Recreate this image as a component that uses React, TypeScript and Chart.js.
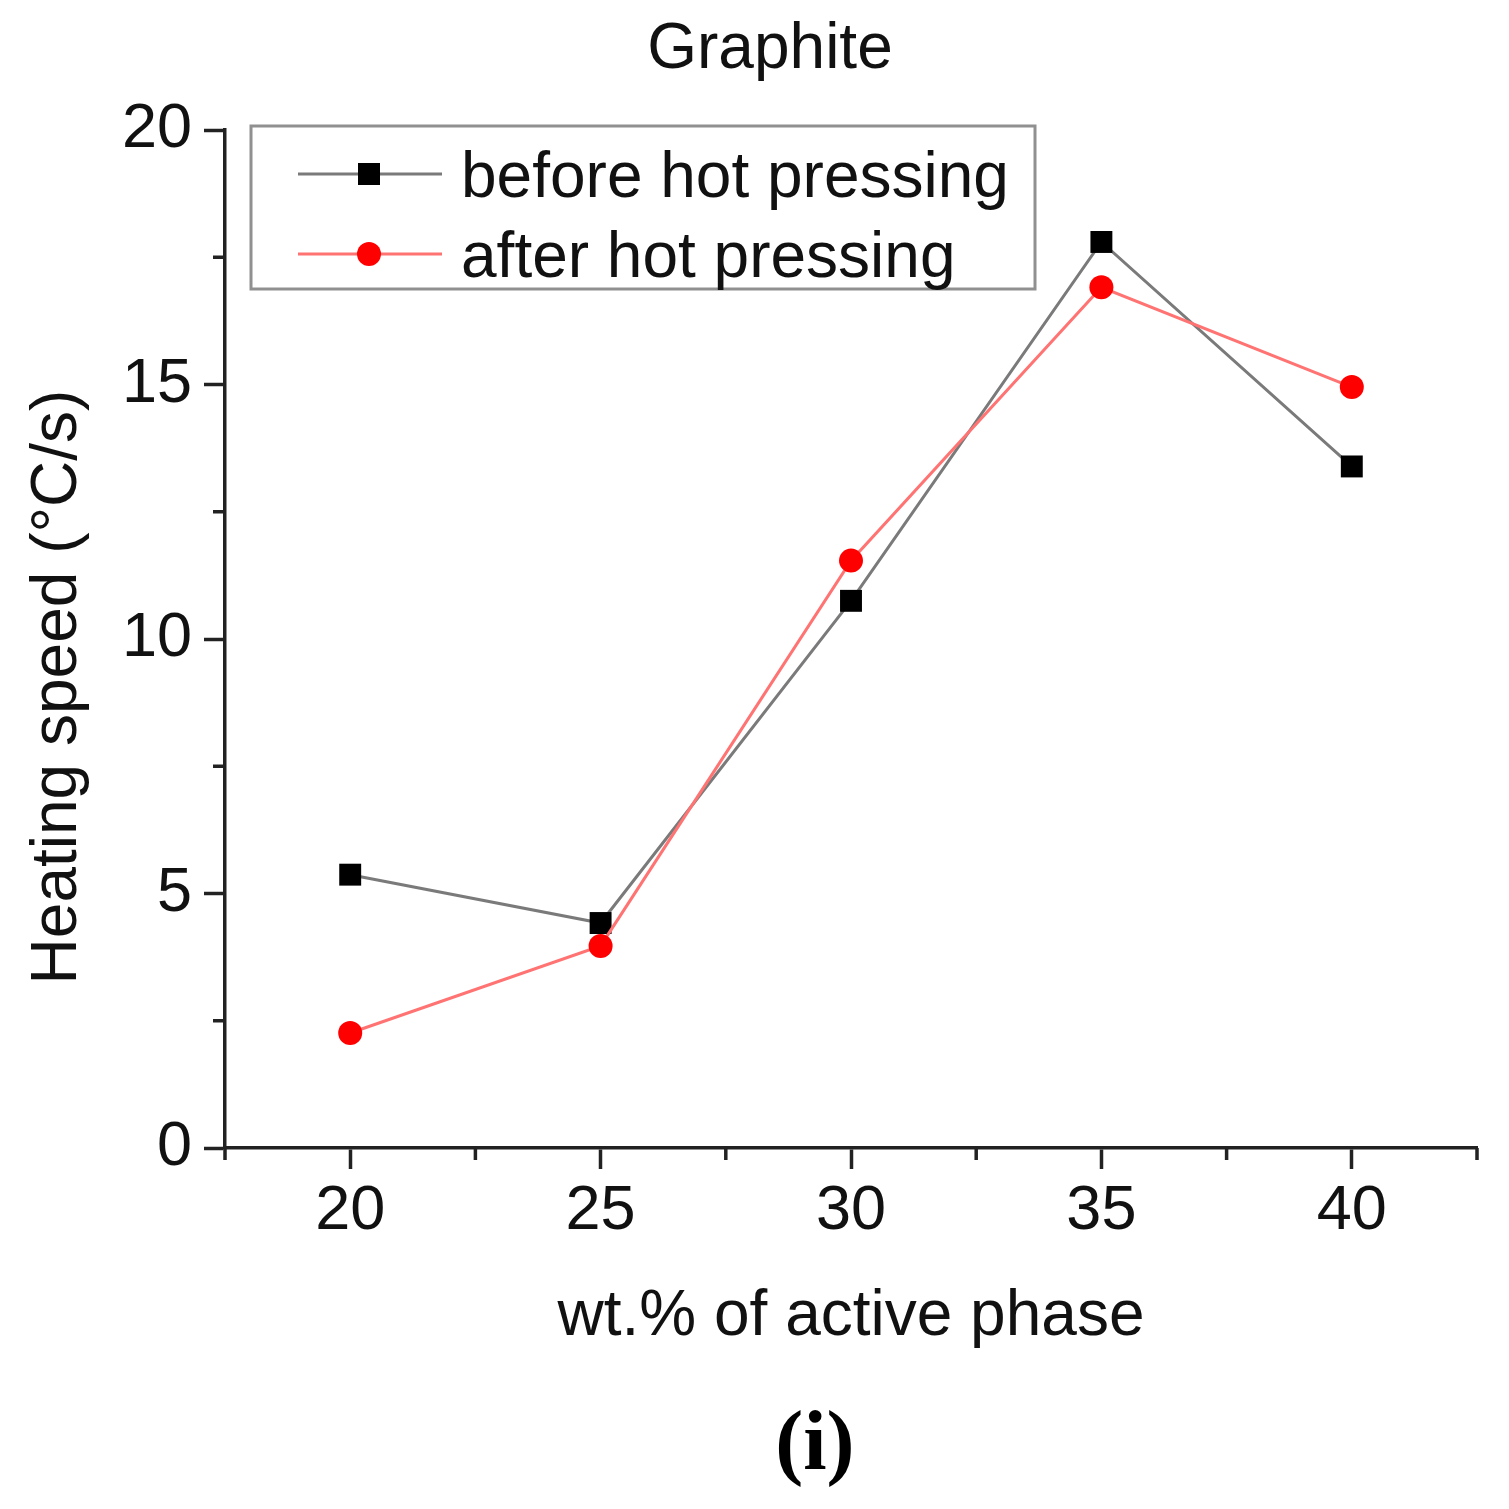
import { useEffect, useRef } from "react";
import { Chart, ChartConfiguration, Plugin, registerables } from "chart.js";

Chart.register(...registerables);

const FONT = "'Liberation Sans', Arial, sans-serif";
const AXIS_COLOR = "#222222";

const weightPercent = [20, 25, 30, 35, 40];
const beforeHotPressing = [5.37, 4.42, 10.75, 17.8, 13.39];
const afterHotPressing = [2.26, 3.97, 11.54, 16.91, 14.95];

const xMajorTicks = [20, 25, 30, 35, 40];
const xMinorTicks = [17.5, 22.5, 27.5, 32.5, 37.5, 42.5];
const yMinorTicks = [2.5, 7.5, 12.5, 17.5];

const yTitle = "Heating speed (\u00B0C/s)";
const caption = "(i)";

// Chart.js has no minor ticks, draw the short half-step ones by hand
const minorTicks: Plugin = {
  id: "minorTicks",
  afterDraw(chart) {
    const { ctx, chartArea, scales } = chart;
    ctx.save();
    ctx.strokeStyle = AXIS_COLOR;
    ctx.lineWidth = 3.5;
    ctx.beginPath();
    xMinorTicks.forEach((v) => {
      const px = scales.x.getPixelForValue(v);
      ctx.moveTo(px, chartArea.bottom);
      ctx.lineTo(px, chartArea.bottom + 12);
    });
    yMinorTicks.forEach((v) => {
      const py = scales.y.getPixelForValue(v);
      ctx.moveTo(chartArea.left - 12, py);
      ctx.lineTo(chartArea.left, py);
    });
    ctx.stroke();
    ctx.restore();
  },
};

// Boxed legend sitting inside the plot, top left
const insetLegend: Plugin = {
  id: "insetLegend",
  afterDraw(chart) {
    const { ctx, chartArea } = chart;
    const left = chartArea.left + 26;
    const top = chartArea.top - 4;
    ctx.save();
    ctx.strokeStyle = "#909090";
    ctx.lineWidth = 3;
    ctx.strokeRect(left, top, 784, 163);
    chart.data.datasets.forEach((ds: any, i) => {
      const y = top + 48 + i * 80;
      ctx.strokeStyle = ds.borderColor;
      ctx.lineWidth = ds.borderWidth;
      ctx.beginPath();
      ctx.moveTo(left + 47, y);
      ctx.lineTo(left + 191, y);
      ctx.stroke();
      ctx.fillStyle = ds.pointBackgroundColor;
      if (ds.pointStyle === "rect") {
        ctx.fillRect(left + 118 - 11, y - 11, 22, 22);
      } else {
        ctx.beginPath();
        ctx.arc(left + 118, y, 12, 0, Math.PI * 2);
        ctx.fill();
      }
      ctx.fillStyle = "#111";
      ctx.font = `64px ${FONT}`;
      ctx.textBaseline = "alphabetic";
      ctx.textAlign = "left";
      ctx.fillText(ds.label, left + 210, y + 23);
    });
    ctx.restore();
  },
};

// y title sits a bit below the axis centre, caption "(i)" under the figure
const figureText: Plugin = {
  id: "figureText",
  afterDraw(chart) {
    const { ctx, chartArea } = chart;
    ctx.save();
    ctx.fillStyle = "#111";
    ctx.font = `64px ${FONT}`;
    ctx.textAlign = "center";
    ctx.textBaseline = "middle";
    ctx.translate(chartArea.left - 167, (chartArea.top + chartArea.bottom) / 2 + 48);
    ctx.rotate(-Math.PI / 2);
    ctx.fillText(yTitle, 0, 0);
    ctx.restore();

    ctx.save();
    ctx.fillStyle = "#000";
    ctx.font = "bold 84px 'Liberation Serif', 'Times New Roman', serif";
    ctx.textAlign = "center";
    ctx.textBaseline = "middle";
    ctx.fillText(caption, chart.width * 0.54, chart.height - 62);
    ctx.restore();
  },
};

export default function App() {
  const canvasRef = useRef<HTMLCanvasElement>(null);
  const chartRef = useRef<Chart | null>(null);

  useEffect(() => {
    if (!canvasRef.current) return;
    if (chartRef.current) chartRef.current.destroy();

    const ctx = canvasRef.current.getContext("2d");
    if (!ctx) return;

    const axisGrid = {
      drawOnChartArea: false,
      drawTicks: true,
      tickLength: 21,
      tickWidth: 3.5,
      tickColor: AXIS_COLOR,
      color: AXIS_COLOR,
    };
    const axisBorder = { display: true, color: AXIS_COLOR, width: 3.5 };

    const config: ChartConfiguration<"line"> = {
      type: "line",
      data: {
        datasets: [
          {
            label: "before hot pressing",
            data: weightPercent.map((x, i) => ({ x, y: beforeHotPressing[i] })),
            borderColor: "#7a7a7a",
            borderWidth: 3,
            pointStyle: "rect",
            pointRadius: 15.5,
            pointBackgroundColor: "#000000",
            pointBorderColor: "#000000",
            pointBorderWidth: 0,
            order: 2,
          },
          {
            label: "after hot pressing",
            data: weightPercent.map((x, i) => ({ x, y: afterHotPressing[i] })),
            borderColor: "#ff7373",
            borderWidth: 3,
            pointStyle: "circle",
            pointRadius: 12,
            pointBackgroundColor: "#ff0000",
            pointBorderColor: "#ff0000",
            pointBorderWidth: 0,
            order: 1,
          },
        ],
      },
      options: {
        animation: false,
        responsive: false,
        layout: { padding: { left: 63, right: 32, top: 0, bottom: 153.6 } },
        plugins: {
          legend: { display: false },
          tooltip: { enabled: false },
          title: {
            display: true,
            text: "Graphite",
            color: "#111",
            font: { family: FONT, size: 64, weight: "normal" },
            padding: { top: 11.6, bottom: 41.6 },
          },
        },
        scales: {
          x: {
            type: "linear",
            min: 17.5,
            max: 42.5,
            afterBuildTicks: (scale: any) => {
              scale.ticks = xMajorTicks.map((value) => ({ value }));
            },
            afterFit: (scale: any) => {
              scale.height = 207.4;
            },
            grid: axisGrid,
            border: axisBorder,
            ticks: {
              color: "#111",
              padding: 5,
              font: { family: FONT, size: 63 },
            },
            title: {
              display: true,
              text: "wt.% of active phase",
              color: "#111",
              font: { family: FONT, size: 64 },
              padding: { top: 0, bottom: 0 },
            },
          },
          y: {
            type: "linear",
            min: 0,
            max: 20,
            afterFit: (scale: any) => {
              scale.width = 162;
            },
            grid: axisGrid,
            border: axisBorder,
            ticks: {
              stepSize: 5,
              color: "#111",
              padding: 12,
              font: { family: FONT, size: 63 },
            },
            title: { display: false },
          },
        },
      },
      plugins: [minorTicks, insetLegend, figureText],
    };

    chartRef.current = new Chart(ctx, config);

    return () => {
      if (chartRef.current) {
        chartRef.current.destroy();
        chartRef.current = null;
      }
    };
  }, []);

  return (
    <div style={{ position: "fixed", left: 0, top: 0, width: 1509, height: 1509, background: "#fff" }}>
      <canvas ref={canvasRef} width={1509} height={1509} style={{ width: 1509, height: 1509 }} />
    </div>
  );
}
